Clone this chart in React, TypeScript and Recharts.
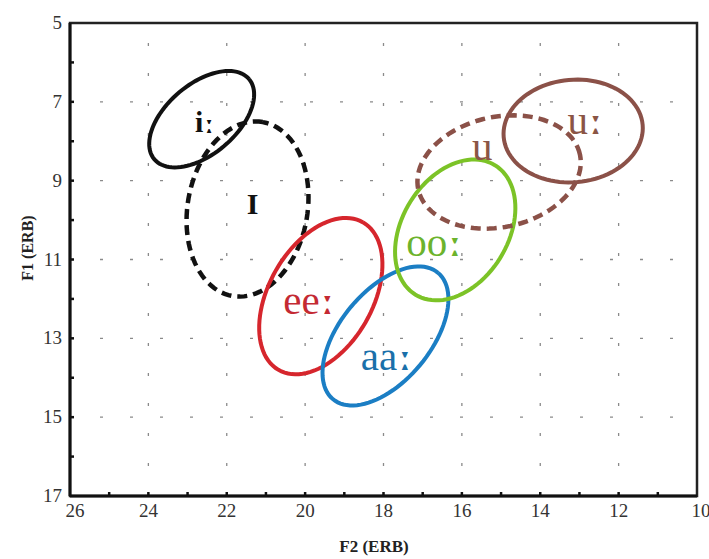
import React from 'react';
import { ScatterChart, Scatter, XAxis, YAxis, ReferenceLine, ReferenceArea } from 'recharts';

// Axis ticks
const xTicks = [26, 25, 24, 23, 22, 21, 20, 19, 18, 17, 16, 15, 14, 13, 12, 11, 10];
const yTicks = [5, 6, 7, 8, 9, 10, 11, 12, 13, 14, 15, 16, 17];
const xGrid = [24, 22, 20, 18, 16, 14, 12];
const yGrid = [7, 9, 11, 13, 15];

// Vowel ellipses: centre F2, centre F1, semi-major, semi-minor (ERB), tilt (deg)
const vowels = ['iː', 'I', 'eeː', 'aaː', 'ooː', 'u', 'uː'];
const centerF2 = [22.64, 21.47, 19.6, 17.95, 16.17, 15.05, 13.16];
const centerF1 = [7.44, 9.72, 11.93, 12.94, 10.25, 8.78, 7.74];
const semiMajor = [1.58, 2.24, 2.16, 2.09, 1.93, 2.11, 1.78];
const semiMinor = [0.89, 1.53, 1.32, 1.15, 1.35, 1.4, 1.3];
const tilt = [40, 80, 60, 50, 58, 12, 5];
const dashed = [false, true, false, false, false, true, false];
const colors = ['#111111', '#111111', '#d6262d', '#1b7ec4', '#7cc327', '#8b5148', '#8b5148'];
const textColors = ['#111111', '#111111', '#c42a33', '#1a70aa', '#6cb32c', '#8b5545', '#8b5545'];

// Label positions (F2, F1)
const labelF2 = [22.56, 21.34, 19.9, 17.92, 16.7, 15.48, 12.85];
const labelF1 = [7.51, 9.57, 12.03, 13.45, 10.56, 8.12, 7.46];

const ellipse = (i: number) => {
  const pts: { x: number; y: number }[] = [];
  const phi = (tilt[i] * Math.PI) / 180;
  const n = 96;
  for (let k = 0; k <= n; k++) {
    const t = (2 * Math.PI * k) / n;
    const right = semiMajor[i] * Math.cos(t) * Math.cos(phi) - semiMinor[i] * Math.sin(t) * Math.sin(phi);
    const up = semiMajor[i] * Math.cos(t) * Math.sin(phi) + semiMinor[i] * Math.sin(t) * Math.cos(phi);
    pts.push({ x: centerF2[i] - right, y: centerF1[i] - up });
  }
  return pts;
};

const labelData = vowels.map((v, i) => ({ x: labelF2[i], y: labelF1[i], label: v, i }));

const SERIF = "'Liberation Serif', 'Times New Roman', 'DejaVu Serif', serif";
const MARK = "'DejaVu Serif', 'Liberation Serif', serif";

const XTick = (props: any) => {
  const { x, y, payload } = props;
  const v = payload.value;
  const isMajor = v % 2 === 0;
  const dx = v === 26 ? 5 : v === 10 ? 4 : 0;
  return (
    <g>
      {v !== 26 && v !== 10 && <line x1={x} x2={x} y1={y} y2={y - 4} stroke="#111" strokeWidth={2.5} />}
      {isMajor && (
        <text x={x + dx} y={y + 21} textAnchor="middle" style={{ fontFamily: SERIF, fontSize: 19 }} fill="#333">
          {v}
        </text>
      )}
    </g>
  );
};

const YTick = (props: any) => {
  const { x, y, payload } = props;
  const v = payload.value;
  const isMajor = v % 2 === 1;
  return (
    <g>
      {v !== 5 && v !== 17 && <line x1={x} x2={x + 4} y1={y} y2={y} stroke="#111" strokeWidth={2.5} />}
      {isMajor && (
        <text x={x - 8} y={y + 6} textAnchor="end" style={{ fontFamily: SERIF, fontSize: 19 }} fill="#333">
          {v}
        </text>
      )}
    </g>
  );
};

const LabelShape = (props: any) => {
  const { cx, cy, payload } = props;
  const i = payload.i;
  const black = i < 2;
  const label: string = payload.label;
  const hasMark = label.endsWith('ː');
  const base = hasMark ? label.slice(0, -1) : label;
  return (
    <text
      x={cx}
      y={cy}
      textAnchor="middle"
      dominantBaseline="central"
      style={{ fontFamily: SERIF, fontSize: black ? 30 : 41, fontWeight: black ? 'bold' : 'normal' }}
      fill={textColors[i]}
    >
      {base}
      {hasMark && <tspan style={{ fontFamily: MARK, fontWeight: 'bold' }}>ː</tspan>}
    </text>
  );
};

const NoDot = () => <g />;

export default function App() {
  return (
    <div style={{ position: 'absolute', left: 0, top: 0, width: 709, height: 559, background: '#fff' }}>
      <ScatterChart width={709} height={559} margin={{ top: 23, right: 12, left: 0, bottom: 0 }}>
        <XAxis
          type="number"
          dataKey="x"
          domain={[10, 26]}
          reversed
          ticks={xTicks}
          interval={0}
          tickSize={0}
          tickMargin={0}
          tick={<XTick />}
          axisLine={{ stroke: '#111', strokeWidth: 3 }}
          tickLine={false}
          height={63}
          allowDataOverflow
        />
        <YAxis
          type="number"
          dataKey="y"
          domain={[5, 17]}
          reversed
          ticks={yTicks}
          interval={0}
          tickSize={0}
          tickMargin={0}
          tick={<YTick />}
          axisLine={{ stroke: '#111', strokeWidth: 3 }}
          tickLine={false}
          width={70}
          allowDataOverflow
        />
        <ReferenceArea x1={10} x2={26} y1={5} y2={17} fill="none" fillOpacity={0} stroke="#222" strokeWidth={2.5} />
        {xGrid.map((g) => (
          <ReferenceLine key={'vx' + g} x={g} stroke="#8a8a8a" strokeWidth={1.3} strokeDasharray="3 27" />
        ))}
        {yGrid.map((g) => (
          <ReferenceLine key={'hy' + g} y={g} stroke="#8a8a8a" strokeWidth={1.3} strokeDasharray="3 27" />
        ))}
        {vowels.map((v, i) => (
          <Scatter
            key={v}
            name={v}
            data={ellipse(i)}
            isAnimationActive={false}
            shape={<NoDot />}
            line={{
              stroke: colors[i],
              strokeWidth: dashed[i] ? 4.5 : 4,
              strokeDasharray: dashed[i] ? '10 6' : undefined,
              fill: 'none',
            }}
          />
        ))}
        <Scatter data={labelData} isAnimationActive={false} shape={<LabelShape />} />
        <text x={374} y={552} textAnchor="middle" style={{ fontFamily: SERIF, fontSize: 17, fontWeight: 'bold' }} fill="#222">
          F2 (ERB)
        </text>
        <text
          x={27}
          y={248}
          textAnchor="middle"
          style={{ fontFamily: SERIF, fontSize: 16, fontWeight: 'bold' }}
          fill="#222"
          transform="rotate(-90 27 248)"
          dominantBaseline="central"
        >
          F1 (ERB)
        </text>
      </ScatterChart>
    </div>
  );
}
